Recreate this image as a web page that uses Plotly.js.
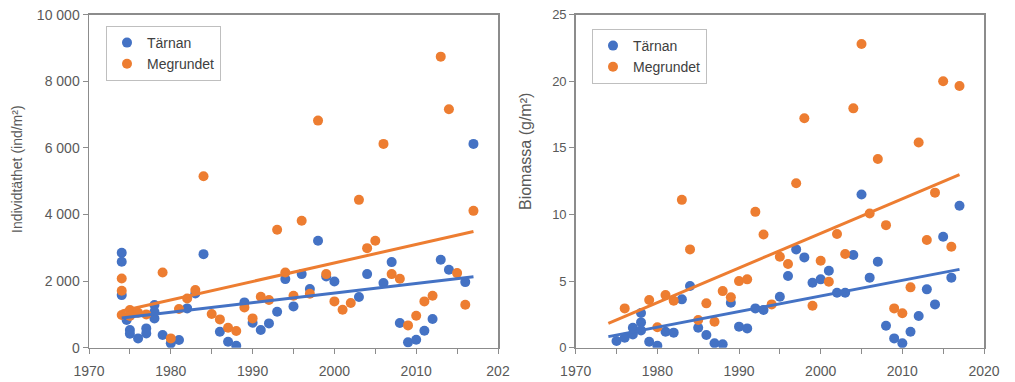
<!DOCTYPE html>
<html><head><meta charset="utf-8">
<script src="https://cdn.plot.ly/plotly-3.0.1.min.js"></script>
<style>html,body{margin:0;padding:0;background:#fff}</style>
</head><body><div id="chart" style="width:1015px;height:382px"></div>
<script>
// ---- data ----
const seriesNames = ['Tärnan', 'Megrundet'];

// Left panel: Individtäthet (ind/m²)
const densTarnanYears = [1974,1974,1974,1974.6,1975,1975,1976,1977,1977,1978,1978,1978,1979,1980,1981,1982,1983,1984,1986,1987,1988,1989,1990,1991,1992,1993,1994,1995,1996,1997,1998,1999,2000,2003,2004,2006,2007,2008,2009,2010,2011,2012,2013,2014,2016,2017];
const densTarnan      = [2850,2580,1580,830,530,420,280,580,430,1280,1080,880,380,130,230,1180,1630,2810,480,180,60,1360,750,530,730,1080,2060,1240,2210,1760,3210,2140,1990,1520,2210,1940,2570,740,160,240,510,860,2640,2340,1970,6120];
const densMegYears = [1974,1974,1974,1975,1975,1976,1977,1979,1980,1981,1982,1983,1984,1985,1986,1987,1988,1989,1990,1991,1992,1993,1994,1995,1996,1997,1998,1999,2000,2001,2002,2003,2004,2005,2006,2007,2008,2009,2010,2011,2012,2013,2014,2015,2016,2017];
const densMeg      = [2080,1710,980,1130,950,1050,1000,2260,280,1160,1480,1730,5150,1010,850,600,500,1210,880,1530,1430,3540,2260,1560,3810,1620,6820,2210,1390,1140,1340,4440,2990,3210,6120,2210,2070,670,960,1390,1560,8740,7160,2240,1290,4110];
const densTrendYears = [1974, 2017];
const densTrendTarnan = [890, 2130];
const densTrendMeg    = [1100, 3490];

// Right panel: Biomassa (g/m²)
const bioTarnanYears = [1975,1976,1977,1977,1978,1978,1978,1979,1980,1981,1982,1983,1984,1985,1986,1987,1988,1989,1990,1991,1992,1993,1995,1996,1997,1998,1999,2000,2001,2002,2003,2004,2005,2006,2007,2008,2009,2010,2011,2012,2013,2014,2015,2016,2017];
const bioTarnan      = [0.5,0.75,1.0,1.5,2.6,1.9,1.3,0.45,0.15,1.2,1.13,3.63,4.63,1.5,0.95,0.33,0.25,3.38,1.58,1.45,2.95,2.83,3.83,5.38,7.38,6.78,4.88,5.13,5.78,4.13,4.13,6.96,11.5,5.26,6.46,1.65,0.7,0.33,1.2,2.38,4.38,3.25,8.33,5.26,10.66];
const bioMegYears = [1976,1979,1980,1981,1982,1983,1984,1985,1986,1987,1988,1989,1990,1991,1992,1993,1994,1995,1996,1997,1998,1999,2000,2001,2002,2003,2004,2005,2006,2007,2008,2009,2010,2011,2012,2013,2014,2015,2016,2017];
const bioMeg      = [2.95,3.58,1.53,3.95,3.53,11.1,7.38,2.08,3.33,1.95,4.25,3.78,5.0,5.13,10.2,8.5,3.25,6.83,6.28,12.35,17.22,3.15,6.53,4.95,8.53,7.03,17.97,22.8,10.08,14.17,9.2,2.95,2.58,4.53,15.4,8.08,11.64,20.0,7.58,19.65];
const bioTrendYears = [1974, 2017];
const bioTrendTarnan = [0.83, 5.88];
const bioTrendMeg    = [1.83, 13.0];

// tick labels
const xTickVals = [1970,1975,1980,1985,1990,1995,2000,2005,2010,2015,2020];
const xTickTextLeft  = ['1970','','1980','','1990','','2000','','2010','','202'];
const xTickTextRight = ['1970','','1980','','1990','','2000','','2010','','2020'];
const densTickVals = [0,2000,4000,6000,8000,10000];
const densTickText = ['0','2 000','4 000','6 000','8 000','10 000'];
const bioTickVals = [0,5,10,15,20,25];
const bioTickText = ['0','5','10','15','20','25'];
const densTitle = 'Individtäthet (ind/m²)';
const bioTitle = 'Biomassa (g/m²)';

// ---- styling ----
const BLUE = '#4472C4', ORANGE = '#ED7D31';
const FONT = 'Liberation Sans, Arial, sans-serif';
const AXC = '#8c8c8c';
const MS = 10;

const traces = [
  {x: densTarnanYears, y: densTarnan, type:'scatter', mode:'markers', name: seriesNames[0], marker:{color:BLUE, size:MS}, xaxis:'x', yaxis:'y', legend:'legend'},
  {x: densMegYears, y: densMeg, type:'scatter', mode:'markers', name: seriesNames[1], marker:{color:ORANGE, size:MS}, xaxis:'x', yaxis:'y', legend:'legend'},
  {x: densTrendYears, y: densTrendTarnan, type:'scatter', mode:'lines', line:{color:BLUE, width:3}, showlegend:false, xaxis:'x', yaxis:'y'},
  {x: densTrendYears, y: densTrendMeg, type:'scatter', mode:'lines', line:{color:ORANGE, width:3}, showlegend:false, xaxis:'x', yaxis:'y'},
  {x: bioTarnanYears, y: bioTarnan, type:'scatter', mode:'markers', name: seriesNames[0], marker:{color:BLUE, size:MS}, xaxis:'x2', yaxis:'y2', legend:'legend2'},
  {x: bioMegYears, y: bioMeg, type:'scatter', mode:'markers', name: seriesNames[1], marker:{color:ORANGE, size:MS}, xaxis:'x2', yaxis:'y2', legend:'legend2'},
  {x: bioTrendYears, y: bioTrendTarnan, type:'scatter', mode:'lines', line:{color:BLUE, width:3}, showlegend:false, xaxis:'x2', yaxis:'y2'},
  {x: bioTrendYears, y: bioTrendMeg, type:'scatter', mode:'lines', line:{color:ORANGE, width:3}, showlegend:false, xaxis:'x2', yaxis:'y2'}
];

const W = 1015, H = 382;
const yDom = [(H-347.7)/H, (H-14.7)/H];
function xAx(dom, text){
  return {domain: dom, range:[1970,2020], tickmode:'array', tickvals:xTickVals, ticktext:text,
    showline:true, linecolor:AXC, linewidth:1.5, mirror:true, ticks:'outside', ticklen:5, tickcolor:AXC,
    ticklabelstandoff:5,
    showgrid:false, zeroline:false, tickfont:{family:FONT, size:14, color:'#595959'}, fixedrange:true};
}
function yAx(dom, vals, text, anchor, fs){
  return {domain: dom, range:[0, vals[vals.length-1]], tickmode:'array', tickvals:vals, ticktext:text, anchor:anchor,
    showline:true, linecolor:AXC, linewidth:1.5, mirror:true, ticks:'outside', ticklen:5, tickcolor:AXC,
    showgrid:false, zeroline:false, tickfont:{family:FONT, size:fs, color:'#595959'}, fixedrange:true};
}
const legendStyle = {bgcolor:'#ffffff', bordercolor:'#bfbfbf', borderwidth:1, font:{family:FONT, size:14, color:'#404040'},
  xanchor:'left', yanchor:'top', orientation:'v', itemwidth:30, tracegroupgap:0};

const layout = {
  width: W, height: H, autosize:false,
  margin:{l:0,r:0,t:0,b:0},
  paper_bgcolor:'#ffffff', plot_bgcolor:'#ffffff',
  showlegend:true,
  xaxis: xAx([89/W, 498/W], xTickTextLeft),
  yaxis: yAx(yDom, densTickVals, densTickText, 'x', 14),
  xaxis2: xAx([575.7/W, 984/W], xTickTextRight),
  yaxis2: yAx(yDom, bioTickVals, bioTickText, 'x2', 13),
  legend: Object.assign({x:106/W, y:1-26/H}, legendStyle),
  legend2: Object.assign({x:592/W, y:1-29/H}, legendStyle),
  annotations:[
    {text: densTitle, x:17/W, y:1-169/H, xref:'paper', yref:'paper', textangle:-90, showarrow:false,
     xanchor:'center', yanchor:'middle', font:{family:FONT, size:14, color:'#595959'}},
    {text: bioTitle, x:525/W, y:1-152/H, xref:'paper', yref:'paper', textangle:-90, showarrow:false,
     xanchor:'center', yanchor:'middle', font:{family:FONT, size:16, color:'#595959'}}
  ]
};
layout.xaxis2.anchor = 'y2';
layout.xaxis.anchor = 'y';

Plotly.newPlot('chart', traces, layout, {displayModeBar:false, staticPlot:true});
</script>
</body></html>
